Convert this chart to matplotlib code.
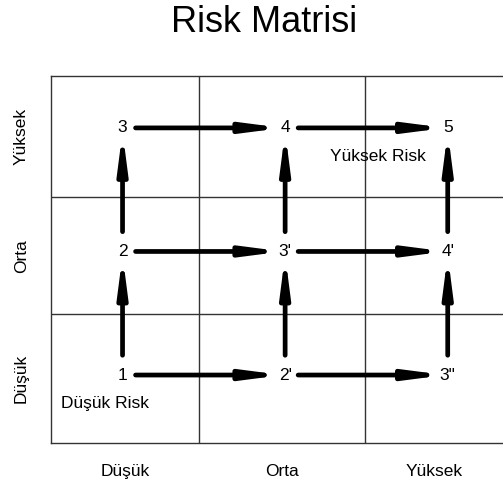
import matplotlib.pyplot as plt

plt.rcParams['font.family'] = ['Liberation Sans', 'DejaVu Sans']

levels = ['Düşük', 'Orta', 'Yüksek']
# cell grid: column index (impact) and row index (probability) for every score
point_labels = ['1', '2', '3', "2'", "3'", '4', '3"', "4'", '5']
point_col = [0, 0, 0, 1, 1, 1, 2, 2, 2]
point_row = [0, 1, 2, 0, 1, 2, 0, 1, 2]
x_edges = [-0.44, 0.47, 1.49, 2.34]
y_edges = [-0.55, 0.49, 1.44, 2.42]

fig = plt.figure(figsize=(5.03, 4.83), dpi=100)
ax = fig.add_axes([51 / 503, 40 / 483, 452 / 503, 367 / 483])
ax.set_xlim(x_edges[0], x_edges[-1])
ax.set_ylim(y_edges[0], y_edges[-1])

for xe in x_edges[1:-1]:
    ax.axvline(xe, color='#333333', lw=1.0)
for ye in y_edges[1:-1]:
    ax.axhline(ye, color='#333333', lw=1.0)
for side in ['left', 'bottom', 'top']:
    ax.spines[side].set_color('#333333')
    ax.spines[side].set_linewidth(1.0)
ax.spines['right'].set_visible(False)

arrow = dict(arrowstyle='-|>,head_length=0.85,head_width=0.11', lw=3.4,
             color='black', shrinkA=0, shrinkB=0, mutation_scale=25)

for lab, c, r in zip(point_labels, point_col, point_row):
    ax.text(c, r, lab, ha='center', va='center', fontsize=12.5)
    if c < 2:
        ax.annotate('', xy=(c + 0.985, r), xytext=(c + 0.08, r), arrowprops=arrow)
    if r < 2:
        ax.annotate('', xy=(c, r + 0.97), xytext=(c, r + 0.16), arrowprops=arrow)

ax.text(-0.38, -0.23, 'Düşük Risk', ha='left', va='center', fontsize=12.5)
ax.text(1.57, 1.77, 'Yüksek Risk', ha='center', va='center', fontsize=12.5)

x_centers = [(a + b) / 2 for a, b in zip(x_edges[:-1], x_edges[1:])]
y_centers = [(a + b) / 2 for a, b in zip(y_edges[:-1], y_edges[1:])]
ax.set_xticks(x_centers)
ax.set_xticklabels(levels, fontsize=12.5)
ax.set_yticks(y_centers)
ax.set_yticklabels(levels, fontsize=12.5, rotation=90, va='center')
ax.tick_params(length=0, pad=15)
ax.tick_params(axis='y', pad=16)

fig.text(264 / 503, 1 - 23 / 483, 'Risk Matrisi', ha='center', va='center', fontsize=26)

fig.savefig('out.png', dpi=100)
